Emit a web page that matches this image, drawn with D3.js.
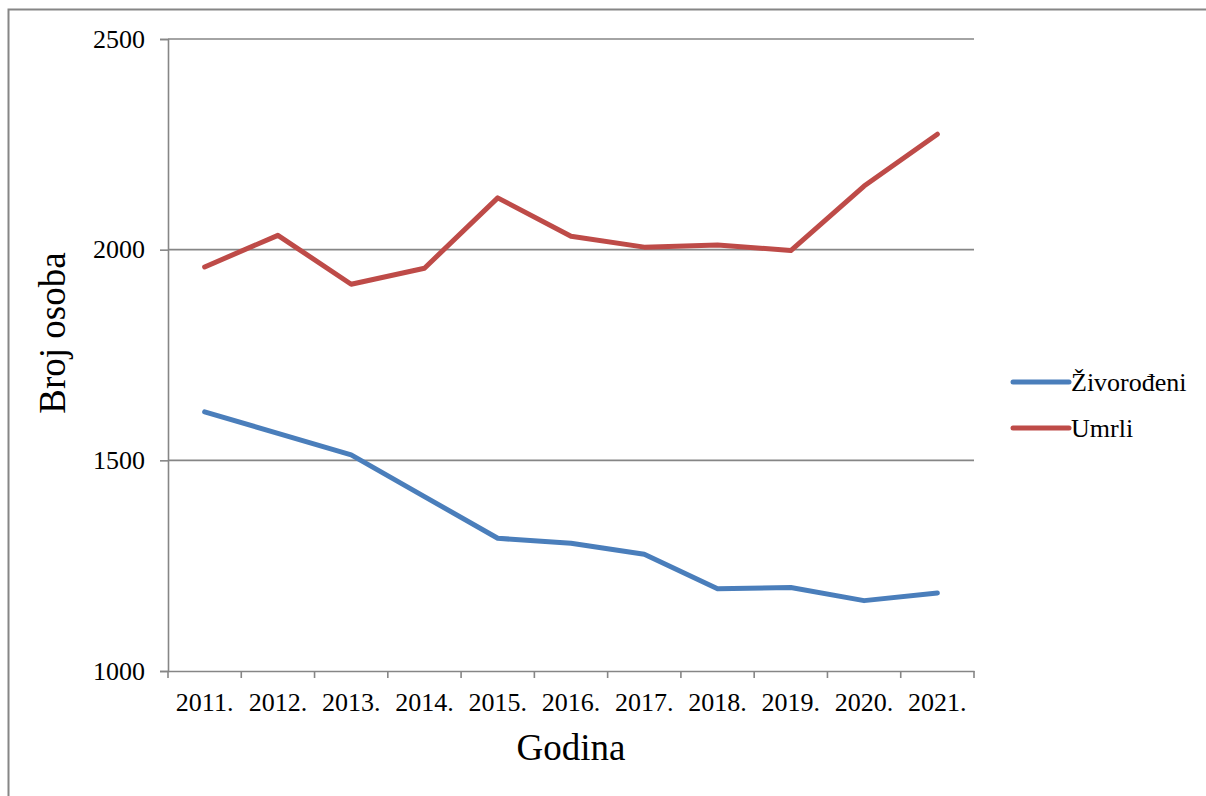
<!DOCTYPE html>
<html>
<head>
<meta charset="utf-8">
<script src="https://cdn.jsdelivr.net/npm/d3@7"></script>
<style>
  html, body { margin: 0; padding: 0; background: #fff; }
  svg { display: block; }
</style>
</head>
<body>
<svg id="chart" width="1206" height="796"></svg>
<script>
const years = ["2011.", "2012.", "2013.", "2014.", "2015.", "2016.", "2017.", "2018.", "2019.", "2020.", "2021."];
const zivorodeni = [1615, 1564, 1513, 1414, 1315, 1303, 1277, 1195, 1198, 1167, 1185];
const umrli = [1959, 2034, 1918, 1956, 2123, 2032, 2006, 2011, 1998, 2151, 2274];
const yTicks = [1000, 1500, 2000, 2500];
const seriesNames = ["Živorođeni", "Umrli"];
const seriesColors = ["#4A7EBB", "#BE4B48"];

(function () {
const svg = d3.select("#chart");
const pL = 168, pR = 974, pT = 39, pB = 671;
const font = "'Liberation Serif', 'Times New Roman', serif";
const gray = "#868686";

// outer frame (cropped)
svg.append("rect")
  .attr("x", 8.5).attr("y", 9.5)
  .attr("width", 1400).attr("height", 1000)
  .attr("fill", "none").attr("stroke", gray).attr("stroke-width", 2);

const x = d3.scaleBand().domain(years).range([pL, pR]).paddingInner(0).paddingOuter(0);
const y = d3.scaleLinear().domain([1000, 2500]).range([pB, pT]);

// gridlines
svg.append("g").selectAll("line")
  .data(yTicks.filter(t => t !== 1000))
  .join("line")
  .attr("x1", pL).attr("x2", pR)
  .attr("y1", d => y(d)).attr("y2", d => y(d))
  .attr("stroke", gray).attr("stroke-width", 1.6);

// y axis
const yAxis = svg.append("g")
  .attr("transform", `translate(${pL},0)`)
  .call(d3.axisLeft(y).tickValues(yTicks).tickSize(8).tickPadding(15).tickFormat(d3.format("d")));
yAxis.select(".domain").attr("stroke", gray).attr("stroke-width", 1.6);
yAxis.selectAll(".tick line").attr("stroke", gray).attr("stroke-width", 1.6);
yAxis.selectAll(".tick text")
  .attr("font-family", font).attr("font-size", 26).attr("fill", "#000");

// x axis
const xAxis = svg.append("g")
  .attr("transform", `translate(0,${pB})`)
  .call(d3.axisBottom(x).tickSize(0).tickPadding(0));
xAxis.select(".domain").attr("stroke", gray).attr("stroke-width", 1.6);
xAxis.selectAll(".tick text")
  .attr("font-family", font).attr("font-size", 26).attr("fill", "#000")
  .attr("dy", null).attr("y", 40);
// boundary ticks
const bounds = years.map(d => x(d)).concat([x(years[years.length - 1]) + x.bandwidth()]);
xAxis.append("g").selectAll("line")
  .data(bounds)
  .join("line")
  .attr("x1", d => d).attr("x2", d => d)
  .attr("y1", 0).attr("y2", 7)
  .attr("stroke", gray).attr("stroke-width", 1.6);

// lines
const line = d3.line()
  .x((d, i) => x(years[i]) + x.bandwidth() / 2)
  .y(d => y(d));

[zivorodeni, umrli].forEach((data, k) => {
  svg.append("path")
    .datum(data)
    .attr("d", line)
    .attr("fill", "none")
    .attr("stroke", seriesColors[k])
    .attr("stroke-width", 5)
    .attr("stroke-linejoin", "round")
    .attr("stroke-linecap", "round");
});

// axis titles
svg.append("text")
  .attr("transform", "translate(65,333) rotate(-90)")
  .attr("text-anchor", "middle")
  .attr("font-family", font).attr("font-size", 37).attr("fill", "#000")
  .text("Broj osoba");

svg.append("text")
  .attr("x", (pL + pR) / 2).attr("y", 760)
  .attr("text-anchor", "middle")
  .attr("font-family", font).attr("font-size", 37).attr("fill", "#000")
  .text("Godina");

// legend
const legendY = [382, 428];
const leg = svg.append("g");
seriesNames.forEach((name, k) => {
  leg.append("line")
    .attr("x1", 1013).attr("x2", 1069)
    .attr("y1", legendY[k]).attr("y2", legendY[k])
    .attr("stroke", seriesColors[k]).attr("stroke-width", 5)
    .attr("stroke-linecap", "round");
  leg.append("text")
    .attr("x", 1071).attr("y", legendY[k] + 9)
    .attr("font-family", font).attr("font-size", 26).attr("fill", "#000")
    .text(name);
});
})();
</script>
</body>
</html>
